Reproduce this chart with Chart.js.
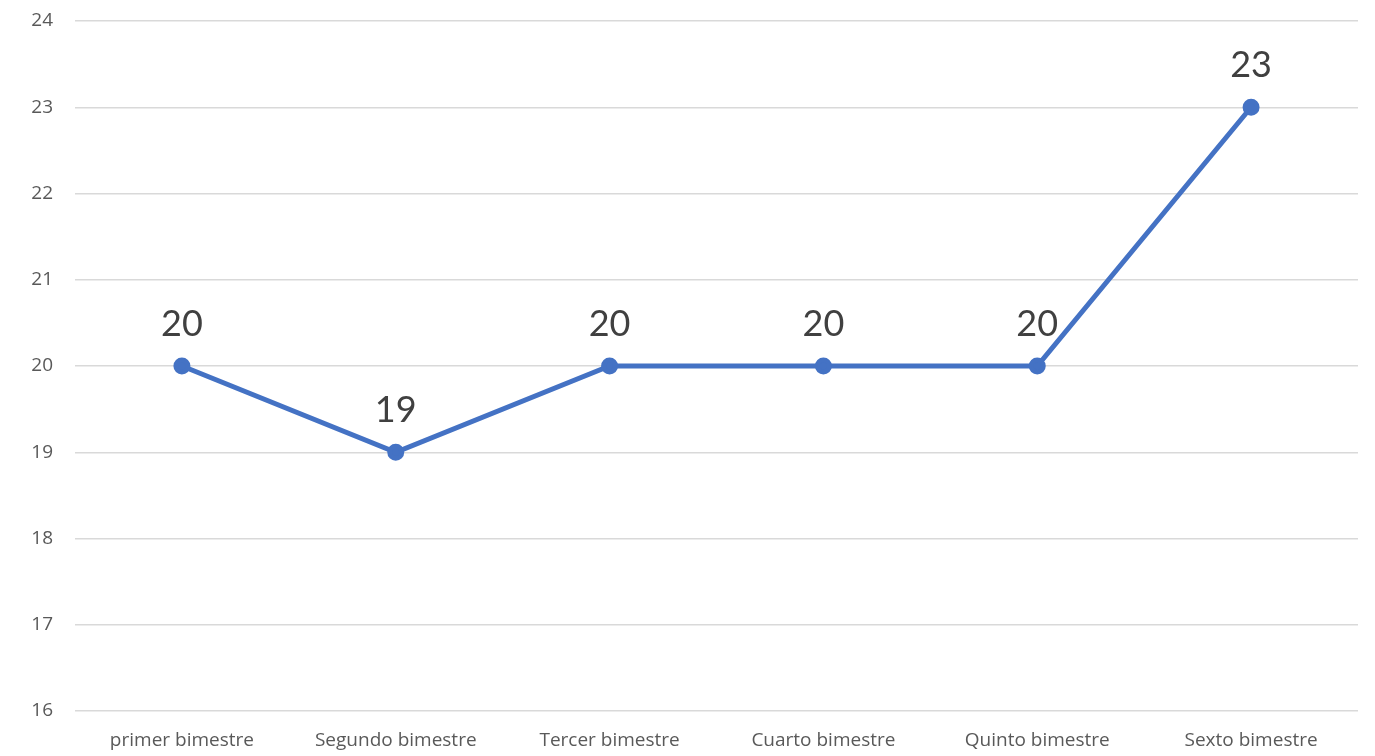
<!DOCTYPE html>
<html lang="es">
<head>
  <meta charset="UTF-8">
  <title>Bimestres</title>
  <script src="https://cdn.jsdelivr.net/npm/chart.js"></script>
  <style>
    html, body { margin: 0; padding: 0; background: #fff; }
    #wrap { width: 1375px; height: 756px; }
  </style>
</head>
<body>
  <div id="wrap">
    <canvas id="lineChart" width="1375" height="756"></canvas>
  </div>
  <script>
    const categories = ['primer bimestre', 'Segundo bimestre', 'Tercer bimestre', 'Cuarto bimestre', 'Quinto bimestre', 'Sexto bimestre'];
    const values = [20, 19, 20, 20, 20, 23];
    const yMin = 16;
    const yMax = 24;

    // simple value labels above each point
    const pointLabels = {
      id: 'pointLabels',
      afterDatasetsDraw(chart) {
        const ctx = chart.ctx;
        const meta = chart.getDatasetMeta(0);
        ctx.save();
        ctx.font = '36px Lato, "Liberation Sans", sans-serif';
        ctx.fillStyle = '#404040';
        ctx.textAlign = 'center';
        ctx.textBaseline = 'bottom';
        meta.data.forEach((pt, i) => {
          ctx.fillText(String(values[i]), pt.x, pt.y - 24);
        });
        ctx.restore();
      }
    };

    const tickFont = { family: '"Open Sans", Lato, sans-serif', size: 19 };

    new Chart(document.getElementById('lineChart').getContext('2d'), {
      type: 'line',
      data: {
        labels: categories,
        datasets: [{
          data: values,
          borderColor: '#4472C4',
          backgroundColor: '#4472C4',
          borderWidth: 5,
          pointRadius: 6,
          pointHoverRadius: 6,
          tension: 0
        }]
      },
      options: {
        responsive: false,
        animation: false,
        layout: { padding: { top: 21, right: 17, left: 0, bottom: 0 }, autoPadding: false },
        plugins: {
          legend: { display: false },
          tooltip: { enabled: false }
        },
        scales: {
          x: {
            offset: true,
            grid: { display: false, drawTicks: false },
            border: { display: false },
            ticks: {
              color: '#595959',
              font: tickFont,
              padding: 18,
              maxRotation: 0
            },
            afterFit(scale) { scale.height = 45; scale.paddingLeft = 0; scale.paddingRight = 0; }
          },
          y: {
            min: yMin,
            max: yMax,
            grid: { color: '#d9d9d9', lineWidth: 1.5, drawTicks: false },
            border: { display: false },
            ticks: {
              stepSize: 1,
              color: '#595959',
              font: tickFont,
              padding: 22
            },
            afterFit(scale) { scale.width = 75; scale.paddingTop = 0; scale.paddingBottom = 0; }
          }
        }
      },
      plugins: [pointLabels]
    });
  </script>
</body>
</html>
